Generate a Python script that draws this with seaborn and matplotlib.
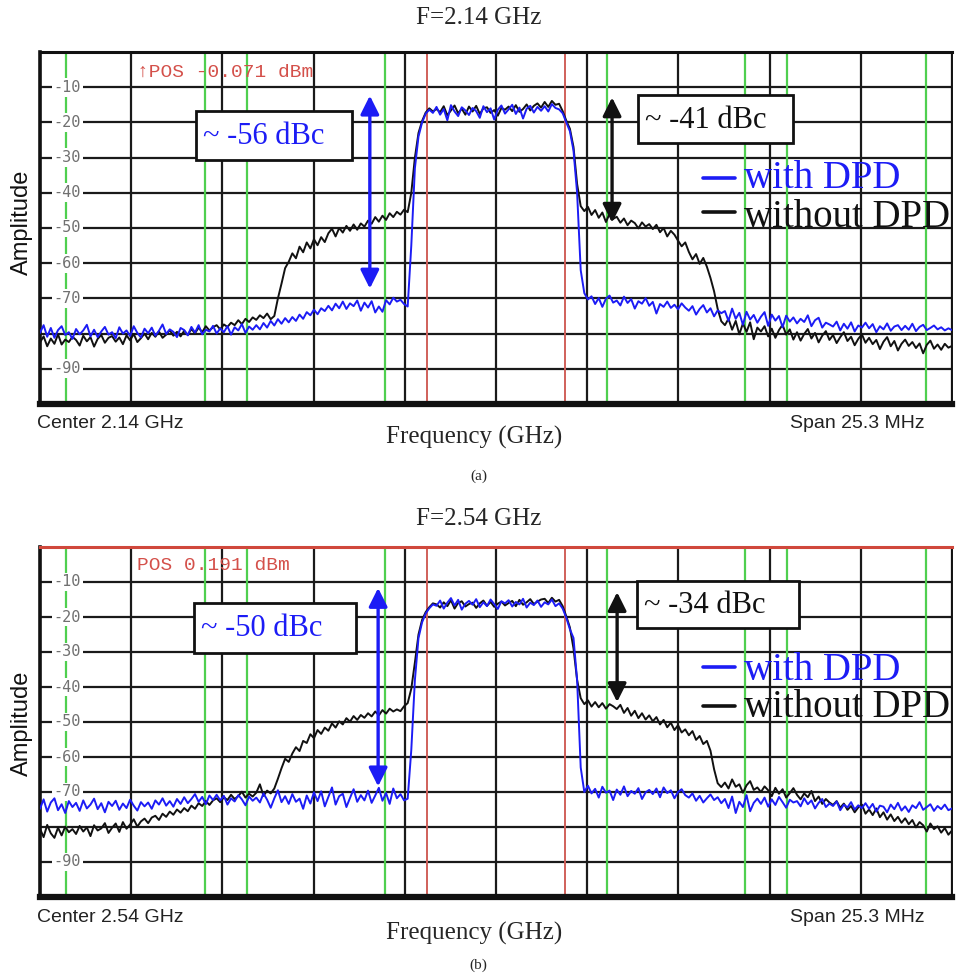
import numpy as np
import pandas as pd
import seaborn as sns
import matplotlib
matplotlib.use("Agg")
import matplotlib.pyplot as plt
from matplotlib.patches import Rectangle
from matplotlib.lines import Line2D

sns.set_style("white")
plt.rcParams["font.family"] = ["Liberation Serif", "DejaVu Sans"]

# ---------------------------------------------------------------- data
SPAN_MHZ = 25.3                      # analyzer span, centred on the carrier
LABELLED_LEVELS = [-10, -20, -30, -40, -50, -60, -70, -90]
GREEN_MARKS = [-11.92, -8.08, -6.92, -3.08, 3.08, 6.92, 8.08, 11.92]
RED_MARKS = [-1.92, 1.92]

# Spectrum traces (dBm), one sweep point every 0.1 MHz, from -12.65 to +12.65 MHz
# F = 2.14 GHz, with DPD
a_with = [
    -79.8, -77.6, -80.9, -78.4, -81.2, -79.0, -77.9, -80.4, -79.6, -81.5,
    -78.7, -80.2, -79.1, -77.5, -80.8, -78.9, -81.0, -79.4, -78.1, -80.3,
    -79.6, -81.3, -78.2, -80.0, -79.1, -80.7, -77.9, -79.8, -81.1, -78.6,
    -79.9, -78.3, -80.6, -79.2, -77.4, -80.1, -78.8, -79.5, -81.0, -78.4,
    -79.0, -80.5, -78.1, -79.7, -77.6, -80.2, -78.9, -79.4, -77.8, -80.0,
    -78.5, -79.6, -77.9, -80.3, -78.2, -79.1, -77.3, -79.8, -78.0, -78.9,
    -77.6, -78.8, -77.0, -78.3, -76.4, -77.7, -75.9, -77.2, -75.6, -76.8,
    -75.3, -76.4, -74.6, -75.8, -73.9, -74.8, -73.2, -74.5, -72.8, -73.6,
    -72.1, -73.4, -71.5, -72.8, -70.9, -73.0, -71.4, -72.2, -70.6, -73.5,
    -71.2, -72.6, -70.8, -74.0, -72.3, -73.8, -70.5, -71.7, -69.8, -70.9,
    -70.4, -71.6, -72.3, -55.0, -33.0, -24.0, -20.0, -17.5, -16.4, -17.3,
    -15.6, -17.8, -16.2, -19.4, -15.1, -16.9, -18.2, -15.7, -16.6, -17.9,
    -15.9, -16.8, -18.7, -15.4, -17.1, -16.0, -19.2, -16.4, -15.2, -17.5,
    -16.3, -15.0, -17.6, -15.8, -18.9, -16.1, -15.3, -17.2, -15.6, -16.7,
    -15.4, -16.9, -14.8, -15.9, -16.3, -17.4, -20.0, -22.5, -28.0, -40.0,
    -62.0, -68.5, -70.3, -69.4, -71.6, -69.9, -72.4, -70.1, -69.2, -71.2,
    -70.6, -72.0, -69.5, -71.3, -70.2, -72.9, -70.8, -71.5, -69.9, -72.1,
    -71.0, -74.3, -71.6, -72.4, -70.9, -72.7, -71.8, -73.1, -71.4, -72.6,
    -73.5, -72.2, -74.6, -73.0, -71.9, -74.0, -72.8, -75.1, -73.4, -74.2,
    -73.6, -76.4, -72.9, -75.8, -74.1, -77.5, -73.8, -76.0, -74.7, -76.9,
    -75.2, -73.9, -77.8, -74.6, -76.3, -75.0, -78.2, -74.9, -76.6, -75.4,
    -77.1, -75.8, -76.7, -74.8, -77.9, -76.2, -75.5, -78.3, -76.9, -77.4,
    -78.0, -76.6, -79.1, -77.2, -78.6, -76.8, -79.4, -77.7, -78.3, -76.9,
    -78.5, -77.3, -79.6, -77.9, -78.8, -77.1, -79.2, -78.0, -77.6, -79.0,
    -77.8, -78.9, -77.2, -79.3, -78.1, -77.5, -79.0, -78.4, -77.7, -78.8,
    -78.2, -79.1, -78.5, -79.0,
]
# F = 2.14 GHz, without DPD
a_without = [
    -82.5, -80.8, -83.6, -81.4, -82.9, -80.2, -83.1, -81.7, -82.4, -80.9,
    -81.8, -83.4, -80.6, -82.2, -81.0, -83.7, -81.5, -80.4, -82.6, -81.2,
    -80.7, -82.3, -81.1, -83.0, -80.5, -81.9, -80.1, -82.4, -81.3, -80.0,
    -81.6, -79.8, -80.9, -79.4, -81.2, -80.3, -79.0, -80.6, -79.5, -80.8,
    -79.2, -80.4, -78.7, -79.9, -78.3, -79.6, -77.9, -79.1, -78.2, -77.6,
    -78.8, -77.4, -78.1, -76.9, -77.6, -76.2, -77.3, -75.8, -76.7, -75.4,
    -76.1, -74.8, -75.6, -74.3, -75.9, -75.0, -70.0, -65.8, -61.4, -59.6,
    -57.2, -58.6, -55.3, -56.9, -54.1, -55.8, -53.2, -54.9, -52.6, -54.0,
    -51.5, -50.2, -52.4, -50.0, -51.3, -49.4, -50.8, -49.0, -50.5, -48.7,
    -49.6, -47.9, -48.8, -46.9, -48.2, -46.5, -47.7, -45.8, -46.9, -45.4,
    -46.2, -44.8, -45.5, -40.0, -30.0, -23.0, -19.6, -17.2, -16.0, -16.9,
    -16.2, -17.1, -15.4, -18.0, -16.6, -15.2, -17.4, -16.1, -17.8, -15.5,
    -16.9, -15.3, -17.6, -16.0, -15.7, -17.3, -16.5, -18.1, -15.9, -16.4,
    -15.5, -16.8, -15.1, -17.0, -16.2, -14.9, -16.6, -15.3, -14.6, -15.8,
    -14.2, -15.6, -13.9, -15.0, -14.7, -16.8, -19.5, -21.8, -27.0, -37.5,
    -43.8, -45.2, -44.0, -46.3, -44.9, -47.1, -45.6, -48.3, -46.0, -47.4,
    -46.8, -48.5, -47.3, -49.2, -47.9, -48.6, -50.1, -48.4, -49.6, -48.9,
    -50.3, -49.1, -51.2, -50.0, -52.4, -50.8, -51.9, -53.6, -55.2, -54.1,
    -56.8, -58.9, -57.4, -60.2, -58.5, -61.0, -64.2, -68.0, -73.0, -76.5,
    -77.6, -75.8, -78.9, -76.4, -80.2, -77.1, -79.5, -76.8, -81.6, -78.3,
    -79.4, -77.9, -80.8, -78.6, -81.2, -79.0, -77.5, -80.3, -78.8, -81.7,
    -79.6, -82.0, -80.1, -78.7, -81.4, -79.8, -82.5, -80.6, -79.3, -81.8,
    -80.4, -82.7, -81.0, -79.6, -82.1, -80.9, -83.3, -81.5, -80.2, -82.6,
    -81.2, -83.0, -81.8, -84.4, -82.3, -81.0, -83.6, -82.1, -84.8, -82.9,
    -81.7, -83.5, -82.4, -84.1, -82.8, -85.6, -83.2, -82.0, -84.3, -83.1,
    -84.6, -82.9, -84.0, -83.5,
]
# F = 2.54 GHz, with DPD
b_with = [
    -74.8, -72.1, -75.6, -73.0, -71.8, -75.2, -73.5, -76.0, -72.6, -74.3,
    -73.1, -75.4, -72.4, -74.7, -73.6, -71.9, -74.9, -73.2, -75.8, -72.8,
    -74.0, -72.5, -75.1, -73.3, -74.6, -72.2, -73.9, -75.3, -72.9, -74.1,
    -73.0, -74.8, -72.4, -73.6, -71.8, -73.9, -72.6, -74.2, -72.0, -73.4,
    -71.5, -73.2, -72.0, -70.6, -72.8, -71.4, -73.5, -71.0, -72.3, -70.8,
    -72.4, -71.1, -73.6, -71.8, -72.7, -70.9, -72.1, -73.8, -71.3, -72.5,
    -71.6, -73.0, -70.4, -72.2, -74.5, -71.8, -69.5, -72.9, -71.2, -73.4,
    -70.6, -72.8, -71.9, -74.8, -71.0, -73.3, -70.1, -72.6, -69.8, -74.1,
    -71.4, -68.7, -73.6, -71.2, -70.5, -74.3, -71.7, -69.2, -72.8, -70.9,
    -72.4, -69.6, -73.1, -71.0, -68.8, -72.5, -70.3, -73.4, -69.0, -71.8,
    -70.6, -72.4, -71.9, -58.0, -38.0, -26.0, -21.5, -19.0, -17.5, -16.4,
    -16.8, -15.3, -17.6, -15.9, -14.6, -16.7, -15.1, -17.9, -16.2, -15.4,
    -16.5, -14.9, -17.2, -15.8, -16.9, -15.0, -16.3, -17.7, -15.5, -16.1,
    -15.2, -17.0, -15.7, -16.4, -14.8, -17.3, -15.9, -16.6, -15.3, -17.1,
    -15.8, -16.4, -15.0, -16.9, -16.1, -17.6, -20.2, -23.5, -26.0, -38.0,
    -63.0, -70.0, -68.2, -70.4, -69.1, -71.6, -68.5, -70.2, -69.6, -72.3,
    -69.3, -70.8, -68.4, -71.2, -69.7, -70.5, -68.9, -72.0, -70.1, -69.4,
    -70.6, -69.0, -71.5, -68.7, -70.3, -69.5, -71.8, -70.0, -69.2, -70.9,
    -71.6, -70.4, -72.5, -71.1, -73.0, -71.8, -70.7, -72.3, -71.5, -73.2,
    -72.0, -74.6, -71.3, -76.0, -72.8, -74.3, -70.9, -75.5, -73.1, -71.9,
    -73.4, -71.6, -74.2, -72.1, -73.7, -71.4, -72.9, -74.5, -72.2, -73.0,
    -72.6, -74.1, -71.8, -73.5, -72.4, -74.7, -73.1, -72.0, -74.3, -73.3,
    -74.0, -72.7, -75.2, -73.6, -74.4, -72.9, -75.0, -73.8, -74.6, -73.2,
    -74.8, -73.4, -75.6, -73.9, -74.2, -75.8, -73.6, -74.9, -73.1, -75.3,
    -74.1, -75.7, -73.8, -74.6, -72.9, -75.1, -74.3, -73.5, -75.4, -74.0,
    -74.9, -73.6, -75.2, -74.7,
]
# F = 2.54 GHz, without DPD
b_without = [
    -80.5, -82.9, -79.4, -81.8, -83.1, -80.2, -82.4, -79.9, -81.5, -80.6,
    -82.0, -79.7, -81.3, -80.1, -82.6, -79.5, -81.0, -80.4, -78.9, -81.7,
    -80.2, -79.0, -81.4, -78.6, -80.5, -79.3, -77.8, -79.9, -78.4, -77.6,
    -78.9, -77.3, -76.8, -78.0, -76.2, -77.1, -75.6, -76.5, -75.0, -75.9,
    -74.6, -75.5, -73.9, -74.8, -73.2, -74.0, -72.6, -73.7, -72.4, -71.8,
    -72.9, -71.5, -72.3, -70.8, -72.0, -71.2, -69.9, -71.6, -70.5, -71.3,
    -70.2, -67.8, -71.1, -69.6, -70.4, -69.0, -66.2, -63.2, -60.5, -61.4,
    -59.0, -57.2, -58.3, -55.4, -56.0, -53.5, -54.6, -52.3, -53.4, -51.6,
    -52.5, -50.4, -51.6, -49.8, -50.7, -48.9, -49.9, -48.3, -49.4, -48.0,
    -48.8, -47.5, -48.4, -47.0, -48.1, -46.6, -47.6, -46.2, -47.0, -46.4,
    -46.9, -45.5, -44.6, -40.5, -33.0, -25.0, -20.8, -18.6, -17.2, -16.1,
    -16.4, -17.3, -15.8, -16.9, -15.2, -17.6, -16.0, -15.5, -17.0, -16.3,
    -15.9, -17.4, -16.1, -15.3, -16.8, -15.7, -17.1, -16.2, -15.6, -16.7,
    -16.0, -15.4, -16.9, -15.1, -16.5, -15.8, -14.9, -16.3, -15.6, -15.0,
    -14.8, -16.0, -14.5, -15.6, -15.1, -16.9, -19.8, -23.0, -29.0, -38.0,
    -43.2, -44.9, -43.8, -45.6, -44.3, -45.8, -44.6, -46.2, -44.9, -45.5,
    -46.3, -45.1, -47.4, -46.0, -48.2, -46.8, -48.9, -47.5, -49.3, -48.1,
    -49.8, -48.6, -50.7, -49.4, -51.5, -50.2, -52.3, -50.9, -53.0, -52.1,
    -53.8, -52.6, -55.1, -54.0, -56.3, -55.4, -58.2, -63.5, -67.5, -68.6,
    -67.3, -69.0, -66.4, -68.5, -67.8, -70.2, -68.1, -66.9, -69.4, -68.7,
    -70.0, -68.4, -69.5, -71.2, -68.8, -70.5, -69.2, -71.6, -70.3, -68.9,
    -70.8, -72.1, -70.4, -71.5, -69.7, -72.6, -71.3, -73.4, -72.0, -73.0,
    -73.7, -72.6, -74.5, -73.3, -75.1, -74.0, -75.8, -74.4, -73.6, -76.2,
    -75.0, -76.6, -74.7, -77.2, -75.8, -77.9, -76.4, -78.3, -77.1, -78.8,
    -77.5, -79.2, -78.0, -80.1, -78.6, -79.5, -81.3, -79.0, -80.6, -79.8,
    -81.6, -80.3, -82.2, -81.0,
]

PANELS = [
    dict(title="F=2.14 GHz", tag="(a)", center="Center 2.14 GHz",
         marker="\u2191POS -0.071 dBm", with_dpd=a_with, without_dpd=a_without,
         dbc_with="~ -56 dBc", dbc_without="~ -41 dBc"),
    dict(title="F=2.54 GHz", tag="(b)", center="Center 2.54 GHz",
         marker="POS 0.191 dBm", with_dpd=b_with, without_dpd=b_without,
         dbc_with="~ -50 dBc", dbc_without="~ -34 dBc"),
]

# ---------------------------------------------------------------- layout (pixels)
W, H = 957, 975
fig = plt.figure(figsize=(W / 100, H / 100), dpi=100)


def fx(px):
    return px / W


def fy(py):
    return 1 - py / H


LAYOUT = [
    dict(box=(40, 52, 952, 404), title_y=18, xlabel_y=437, tag_y=476, foot_y=424,
         ylabel_y=222, marker_y=72,
         arrow_with=(-3.50, -12.4, -67.2), arrow_without=(3.22, -12.9, -48.5),
         box_with=(196, 111, 352, 160), box_without=(638, 95, 793, 143),
         leg_with=188, leg_without=227, leg_line=(178, 212), top_color="#111111"),
    dict(box=(40, 547, 952, 897), title_y=519, xlabel_y=933, tag_y=965, foot_y=918,
         ylabel_y=723, marker_y=566,
         arrow_with=(-3.27, -11.7, -68.4), arrow_without=(3.36, -12.9, -44.3),
         box_with=(194, 603, 356, 653), box_without=(637, 581, 799, 628),
         leg_with=680, leg_without=717, leg_line=(667, 706), top_color="#d0483c"),
]

BLUE = "#1c1cf5"
BLACK = "#111111"
half = SPAN_MHZ / 2

for spec, lay in zip(PANELS, LAYOUT):
    l, t, r, b = lay["box"]
    ax = fig.add_axes([fx(l), fy(b), (r - l) / W, (b - t) / H])

    frames = []
    for name, vals in (("without DPD", spec["without_dpd"]), ("with DPD", spec["with_dpd"])):
        frames.append(pd.DataFrame({
            "freq": np.linspace(-half, half, len(vals)),
            "level": vals,
            "trace": name,
        }))
    df = pd.concat(frames, ignore_index=True)
    sns.lineplot(data=df, x="freq", y="level", hue="trace",
                 hue_order=["without DPD", "with DPD"],
                 palette={"without DPD": BLACK, "with DPD": BLUE},
                 estimator=None, sort=False, lw=1.4, legend=False, ax=ax, zorder=4)

    ax.set_xlim(-half, half)
    ax.set_ylim(-100, 0)
    ax.set_xticks(np.linspace(-half, half, 11))
    ax.set_yticks(np.arange(-90, 0, 10))
    ax.tick_params(length=0, labelbottom=False, labelleft=False)
    ax.grid(True, color="#1a1a1a", lw=1.6)
    ax.set_axisbelow(True)
    ax.set_xlabel("")
    ax.set_ylabel("")

    for f in GREEN_MARKS:
        ax.axvline(f, color="#4fcf4f", lw=1.6, zorder=1.5)
    for f in RED_MARKS:
        ax.axvline(f, color="#d0605a", lw=1.4, zorder=1.5)

    for side, lw in (("left", 2.6), ("bottom", 4.5), ("top", 2.2), ("right", 1.4)):
        ax.spines[side].set_linewidth(lw)
        ax.spines[side].set_color("#111111")
    ax.spines["top"].set_color(lay["top_color"])

    for lv in LABELLED_LEVELS:
        ax.text(-12.27, lv, f"{lv}", ha="left", va="center", fontsize=11,
                family=["DejaVu Sans Mono"], color="#707070", zorder=2,
                bbox=dict(boxstyle="square,pad=0.12", fc="white", ec="none"))

    ax.text((137 - l) / (r - l), 1 - (lay["marker_y"] - t) / (b - t), spec["marker"],
            transform=ax.transAxes, ha="left", va="center", fontsize=14,
            family=["Liberation Mono", "DejaVu Sans Mono"], color="#d4504a", zorder=5)

    # level-difference arrows
    for key, col in (("arrow_with", BLUE), ("arrow_without", BLACK)):
        xa, ytop, ybot = lay[key]
        ax.annotate("", xy=(xa, ytop), xytext=(xa, ybot),
                    arrowprops=dict(arrowstyle="<|-|>", mutation_scale=28,
                                    lw=2.4, color=col, shrinkA=0, shrinkB=0),
                    zorder=6)

    # dBc callouts
    for key, text, col in (("box_with", spec["dbc_with"], BLUE),
                           ("box_without", spec["dbc_without"], BLACK)):
        x0, y0, x1, y1 = lay[key]
        fig.add_artist(Rectangle((fx(x0), fy(y1)), (x1 - x0) / W, (y1 - y0) / H,
                                 transform=fig.transFigure, fc="white", ec="#111111",
                                 lw=2, zorder=5))
        fig.text(fx(x0 + 7), fy((y0 + y1) / 2 + 1), text, ha="left", va="center",
                 fontsize=22, color=col, zorder=6)

    # in-plot legend
    for (yl, ytxt, label, col) in ((lay["leg_line"][0], lay["leg_with"], "with DPD", BLUE),
                                   (lay["leg_line"][1], lay["leg_without"], "without DPD", BLACK)):
        fig.add_artist(Line2D([fx(703), fx(735)], [fy(yl), fy(yl)], color=col, lw=2.6,
                              transform=fig.transFigure, zorder=6))
        fig.text(fx(744), fy(ytxt), label, ha="left", va="baseline", fontsize=28,
                 color=col, zorder=6)

    fig.text(0.5, fy(lay["title_y"]), spec["title"], ha="center", va="center", fontsize=18)
    fig.text(0.495, fy(lay["xlabel_y"]), "Frequency (GHz)", ha="center", va="center", fontsize=18)
    fig.text(0.5, fy(lay["tag_y"]), spec["tag"], ha="center", va="center", fontsize=11)
    fig.text(fx(37), fy(lay["foot_y"]), spec["center"], ha="left", va="center",
             fontsize=14, family=["Liberation Sans"], color="#222222")
    fig.text(fx(925), fy(lay["foot_y"]), f"Span {SPAN_MHZ} MHz", ha="right", va="center",
             fontsize=14, family=["Liberation Sans"], color="#222222")
    fig.text(fx(22), fy(lay["ylabel_y"]), "Amplitude", ha="center", va="center",
             rotation=90, fontsize=17, family=["Liberation Sans"], color="#111111")

fig.savefig("out.png", dpi=100, facecolor="white")
